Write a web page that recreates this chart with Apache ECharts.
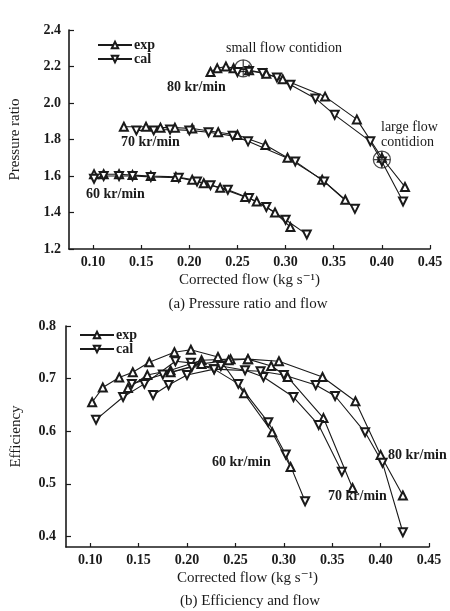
<!DOCTYPE html>
<html>
<head>
<meta charset="utf-8">
<script src="https://cdn.jsdelivr.net/npm/echarts@6/dist/echarts.min.js"></script>
<style>
html,body{margin:0;padding:0;background:#fff;}
#c{width:450px;height:611px;}
</style>
</head>
<body>
<div id="c"></div>
<script>
// ---- tick labels ----
const xTicks = [0.10, 0.15, 0.20, 0.25, 0.30, 0.35, 0.40, 0.45];
const prTicks = [1.2, 1.4, 1.6, 1.8, 2.0, 2.2, 2.4];
const effTicks = [0.4, 0.5, 0.6, 0.7, 0.8];

// ---- (a) pressure ratio vs corrected flow ----
const pr60Exp = [[0.101,1.61],[0.111,1.61],[0.127,1.61],[0.141,1.605],[0.160,1.60],[0.186,1.595],[0.203,1.58],[0.215,1.56],[0.232,1.535],[0.258,1.485],[0.270,1.46],[0.289,1.40],[0.305,1.32]];
const pr60Cal = [[0.101,1.585],[0.111,1.60],[0.127,1.60],[0.141,1.60],[0.160,1.595],[0.189,1.59],[0.208,1.57],[0.222,1.55],[0.240,1.525],[0.262,1.48],[0.280,1.43],[0.300,1.36],[0.322,1.28]];
const pr70Exp = [[0.132,1.87],[0.155,1.87],[0.170,1.865],[0.185,1.865],[0.203,1.86],[0.230,1.84],[0.250,1.825],[0.279,1.77],[0.302,1.70],[0.338,1.58],[0.362,1.47]];
const pr70Cal = [[0.145,1.85],[0.163,1.85],[0.180,1.855],[0.200,1.85],[0.220,1.84],[0.245,1.82],[0.261,1.79],[0.310,1.68],[0.340,1.57],[0.372,1.42]];
const pr80Exp = [[0.222,2.17],[0.229,2.19],[0.238,2.20],[0.246,2.19],[0.262,2.18],[0.280,2.16],[0.297,2.13],[0.341,2.035],[0.374,1.91],[0.400,1.70],[0.424,1.54]];
const pr80Cal = [[0.250,2.17],[0.262,2.175],[0.276,2.165],[0.291,2.14],[0.305,2.10],[0.331,2.025],[0.351,1.935],[0.388,1.79],[0.400,1.68],[0.422,1.46]];
const conditionPts = [[0.256,2.19],[0.400,1.69]];

// ---- (b) efficiency vs corrected flow ----
const eff60Exp = [[0.102,0.655],[0.113,0.683],[0.130,0.702],[0.144,0.712],[0.161,0.731],[0.187,0.750],[0.204,0.755],[0.232,0.741],[0.259,0.672],[0.288,0.598],[0.307,0.532]];
const eff60Cal = [[0.106,0.622],[0.134,0.665],[0.156,0.690],[0.188,0.733],[0.204,0.730],[0.228,0.718],[0.253,0.690],[0.284,0.617],[0.302,0.556],[0.322,0.467]];
const eff70Exp = [[0.139,0.682],[0.159,0.707],[0.183,0.716],[0.215,0.735],[0.245,0.737],[0.263,0.737],[0.287,0.724],[0.304,0.703],[0.341,0.625],[0.371,0.492]];
const eff70Cal = [[0.143,0.690],[0.175,0.708],[0.205,0.722],[0.235,0.724],[0.260,0.716],[0.279,0.703],[0.310,0.665],[0.336,0.612],[0.360,0.523]];
const eff80Exp = [[0.183,0.712],[0.215,0.728],[0.243,0.735],[0.263,0.737],[0.295,0.733],[0.340,0.703],[0.374,0.657],[0.400,0.555],[0.423,0.478]];
const eff80Cal = [[0.165,0.669],[0.181,0.688],[0.200,0.707],[0.228,0.718],[0.276,0.714],[0.300,0.707],[0.333,0.688],[0.353,0.667],[0.384,0.598],[0.402,0.540],[0.423,0.408]];

const SERIF = "'Liberation Serif','DejaVu Serif',serif";
const INK = '#1a1a1a';

function lineSeries(name, data, gi, cal) {
  return {
    type: 'line', name: name, data: data,
    xAxisIndex: gi, yAxisIndex: gi,
    symbol: 'emptyTriangle', symbolSize: 8,
    symbolRotate: cal ? 180 : 0,
    lineStyle: {color: INK, width: 1.1},
    itemStyle: {color: INK, borderColor: INK, borderWidth: 1},
    z: 3, animation: false
  };
}

function xAxis(gi) {
  return {
    type: 'value', gridIndex: gi, min: 0.075, max: 0.45,
    name: 'Corrected flow (kg s\u207B\u00B9)', nameLocation: 'middle', nameGap: 24,
    nameTextStyle: {fontFamily: SERIF, fontSize: 15, color: INK},
    axisLine: {show: true, lineStyle: {color: INK, width: 1.6}},
    axisTick: {show: true, inside: true, length: 4, customValues: xTicks, lineStyle: {color: INK, width: 1.2}},
    axisLabel: {customValues: xTicks, margin: 6, fontFamily: SERIF, fontSize: 14, fontWeight: 'bold', color: INK,
      formatter: v => v.toFixed(2)},
    splitLine: {show: false}
  };
}

const chart = echarts.init(document.getElementById('c'), null, {renderer: 'canvas'});
const option = {
  backgroundColor: '#fff',
  animation: false,
  grid: [
    {left: 68, top: 30, width: 362, height: 219},
    {left: 66, top: 326, width: 363, height: 221}
  ],
  xAxis: [xAxis(0), xAxis(1)],
  yAxis: [
    {
      type: 'value', gridIndex: 0, min: 1.2, max: 2.4, interval: 0.2,
      name: 'Pressure ratio', nameLocation: 'middle', nameGap: 46,
      nameTextStyle: {fontFamily: SERIF, fontSize: 15, color: INK},
      axisLine: {show: true, lineStyle: {color: INK, width: 1.6}},
      axisTick: {show: true, inside: true, length: 5, lineStyle: {color: INK, width: 1.2}},
      axisLabel: {margin: 8, fontFamily: SERIF, fontSize: 14, fontWeight: 'bold', color: INK,
        formatter: v => v.toFixed(1)},
      splitLine: {show: false}
    },
    {
      type: 'value', gridIndex: 1, min: 0.38, max: 0.8,
      name: 'Efficiency', nameLocation: 'middle', nameGap: 42,
      nameTextStyle: {fontFamily: SERIF, fontSize: 15, color: INK},
      axisLine: {show: true, lineStyle: {color: INK, width: 1.6}},
      axisTick: {show: true, inside: true, length: 5, customValues: effTicks, lineStyle: {color: INK, width: 1.2}},
      axisLabel: {customValues: effTicks, margin: 10, fontFamily: SERIF, fontSize: 14, fontWeight: 'bold', color: INK,
        formatter: v => v.toFixed(1)},
      splitLine: {show: false}
    }
  ],
  legend: [
    {
      left: 92, top: 33, orient: 'vertical', itemWidth: 34, itemHeight: 8, itemGap: 0,
      data: ['exp', 'cal'], selectedMode: false,
      textStyle: {fontFamily: SERIF, fontSize: 14, fontWeight: 'bold', color: INK, padding: [0,0,0,-3]}
    },
    {
      left: 74, top: 323, orient: 'vertical', itemWidth: 34, itemHeight: 8, itemGap: 0,
      data: ['exp', 'cal'], selectedMode: false,
      textStyle: {fontFamily: SERIF, fontSize: 14, fontWeight: 'bold', color: INK, padding: [0,0,0,-3]}
    }
  ],
  series: [
    lineSeries('exp', pr60Exp, 0, false),
    lineSeries('cal', pr60Cal, 0, true),
    lineSeries('exp', pr70Exp, 0, false),
    lineSeries('cal', pr70Cal, 0, true),
    lineSeries('exp', pr80Exp, 0, false),
    lineSeries('cal', pr80Cal, 0, true),
    {
      type: 'scatter', name: 'condition', data: conditionPts, xAxisIndex: 0, yAxisIndex: 0,
      symbol: 'path://M0,-10A10,10 0 1,1 0,10A10,10 0 1,1 0,-10ZM-10,0L10,0M0,-10L0,10',
      symbolSize: 17,
      itemStyle: {color: 'rgba(0,0,0,0)', borderColor: INK, borderWidth: 1.3},
      z: 4, silent: true
    },
    lineSeries('exp', eff60Exp, 1, false),
    lineSeries('cal', eff60Cal, 1, true),
    lineSeries('exp', eff70Exp, 1, false),
    lineSeries('cal', eff70Cal, 1, true),
    lineSeries('exp', eff80Exp, 1, false),
    lineSeries('cal', eff80Cal, 1, true)
  ],
  graphic: [
    {type: 'text', left: 226, top: 41, style: {text: 'small flow contidion', font: "14px " + SERIF, fill: INK}},
    {type: 'text', left: 167, top: 80, style: {text: '80 kr/min', font: "bold 14px " + SERIF, fill: INK}},
    {type: 'text', left: 121, top: 135, style: {text: '70 kr/min', font: "bold 14px " + SERIF, fill: INK}},
    {type: 'text', left: 86, top: 187, style: {text: '60 kr/min', font: "bold 14px " + SERIF, fill: INK}},
    {type: 'text', left: 381, top: 120, style: {text: 'large flow', font: "14px " + SERIF, fill: INK}},
    {type: 'text', left: 381, top: 135, style: {text: 'contidion', font: "14px " + SERIF, fill: INK}},
    {type: 'text', x: 248, y: 304, style: {text: '(a) Pressure ratio and flow', font: "15px " + SERIF, fill: INK, align: 'center', verticalAlign: 'middle'}},
    {type: 'text', left: 212, top: 455, style: {text: '60 kr/min', font: "bold 14px " + SERIF, fill: INK}},
    {type: 'text', left: 328, top: 489, style: {text: '70 kr/min', font: "bold 14px " + SERIF, fill: INK}},
    {type: 'text', left: 388, top: 448, style: {text: '80 kr/min', font: "bold 14px " + SERIF, fill: INK}},
    {type: 'text', x: 250, y: 601, style: {text: '(b) Efficiency and flow', font: "15px " + SERIF, fill: INK, align: 'center', verticalAlign: 'middle'}}
  ]
};
chart.setOption(option);
</script>
</body>
</html>
